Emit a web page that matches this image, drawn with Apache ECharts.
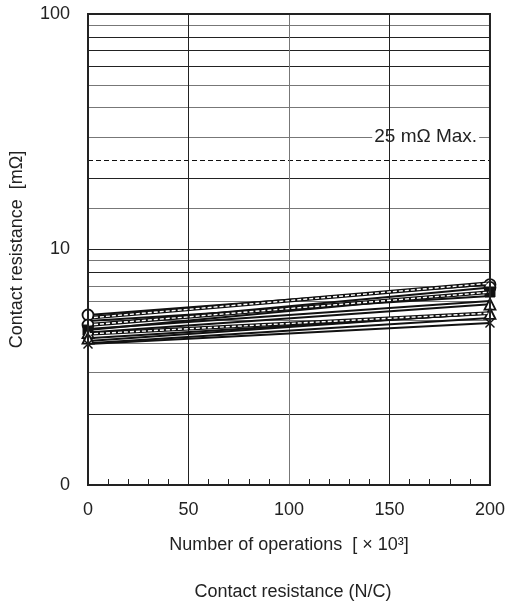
<!DOCTYPE html>
<html>
<head>
<meta charset="utf-8">
<script src="https://cdn.jsdelivr.net/npm/echarts@6/dist/echarts.min.js"></script>
<style>html,body{margin:0;padding:0;background:#fff;}#c{width:508px;height:608px;}</style>
</head>
<body>
<div id="c"></div>
<script>
// ---- data ----
const xValues = [0, 200];
const xTicks = [0, 50, 100, 150, 200];
const xGrid = [50, 100, 150];
const yTickLabels = {1: '0', 10: '10', 100: '100'};
const circleA = [5.27, 7.1];
const circleB = [4.78, 6.9];
const squareA = [4.55, 6.6];
const triangleA = [4.44, 5.86];
const triangleB = [4.2, 5.35];
const crossA = [3.97, 4.87];
const plainA = [4.97, 6.34];
const plainB = [4.6, 6.04];
const plainC = [4.09, 5.37];
const plainD = [4.0, 5.12];
const dashedA = [5.12, 7.19];
const dashedB = [4.78, 6.59];
const dashedC = [4.38, 5.37];
const darkGrid = [2, 8, 10, 20, 60, 70, 80];
const lightGrid = [3, 4, 5, 6, 7, 9, 15, 30, 40, 50, 90];
const limitValue = 24;
const limitLabel = '25 mΩ Max.';
const limitLabelPos = [168, 30];

const FONT = 'Liberation Sans, Arial, Helvetica, sans-serif';
const FS = 18;
const chart = echarts.init(document.getElementById('c'), null, {renderer: 'canvas'});
const pts = arr => xValues.map((x, i) => [x, arr[i]]);
const crossPath = 'path://M0,1L1,0L5,4L9,0L10,1L6,5L10,9L9,10L5,6L1,10L0,9L4,5Z';

function lineSeries(arr, symbol, opts) {
  return Object.assign({
    type: 'line', data: pts(arr), symbol: symbol || 'none', symbolSize: 11,
    showSymbol: !!symbol, clip: false, silent: true, z: 5,
    lineStyle: {color: '#111', width: 2},
    itemStyle: {color: '#fff', borderColor: '#111', borderWidth: 1.8}
  }, opts || {});
}
function dashedSeries(arr) {
  return [
    lineSeries(arr, null, {lineStyle: {color: '#111', width: 3.8}}),
    lineSeries(arr, null, {z: 6, lineStyle: {color: '#fff', width: 1.4, type: [4, 2]}})
  ];
}
function gridLines(vals, color) {
  return vals.map(v => ({yAxis: v, lineStyle: {color: color, width: 1, type: 'solid'}}));
}

const series = [
  {
    type: 'line', data: [], silent: true, z: 1,
    markLine: {
      silent: true, symbol: 'none', label: {show: false}, animation: false, z: 1,
      data: gridLines(darkGrid, '#222').concat(gridLines(lightGrid, '#777')).concat([
        {yAxis: limitValue, lineStyle: {color: '#111', width: 1, type: [5, 3]}}
      ])
    }
  },
  {
    type: 'scatter', data: [limitLabelPos], symbol: 'circle', symbolSize: 1, silent: true, z: 3,
    itemStyle: {color: '#fff', opacity: 1},
    label: {show: true, position: 'inside', formatter: limitLabel, color: '#222', fontSize: 19, fontFamily: FONT,
      backgroundColor: '#fff', padding: [0, 2]}
  },
  {
    type: 'line', data: [], silent: true, z: 4,
    markLine: {
      silent: true, symbol: 'none', label: {show: false}, animation: false, z: 4,
      data: xGrid.map((v, i) => ({xAxis: v, lineStyle: {color: i === 1 ? '#777' : '#222', width: 1, type: 'solid'}}))
    }
  },
  ...dashedSeries(dashedA),
  ...dashedSeries(dashedB),
  ...dashedSeries(dashedC),
  lineSeries(plainA), lineSeries(plainB), lineSeries(plainC), lineSeries(plainD),
  lineSeries(circleA, 'circle'),
  lineSeries(circleB, 'circle'),
  lineSeries(squareA, 'rect', {symbolSize: 10, itemStyle: {color: '#111', borderColor: '#111'}}),
  lineSeries(triangleA, 'triangle'),
  lineSeries(triangleB, 'triangle'),
  lineSeries(crossA, crossPath, {symbolSize: 10, itemStyle: {color: '#111', borderWidth: 0}})
];

chart.setOption({
  animation: false,
  backgroundColor: '#fff',
  title: {
    text: 'Contact resistance (N/C)', left: 288, top: 578, textAlign: 'center',
    textStyle: {fontSize: FS, fontWeight: 'normal', color: '#222', fontFamily: FONT}
  },
  grid: {left: 85.5, right: 16, top: 14, bottom: 123, show: true, borderColor: '#222', borderWidth: 2, z: 10},
  xAxis: {
    type: 'value', min: xTicks[0], max: xTicks[xTicks.length - 1], interval: 50,
    axisLine: {show: true, lineStyle: {color: '#222', width: 2}},
    axisTick: {show: true, inside: true, length: 6, lineStyle: {color: '#222'}},
    minorTick: {show: true, splitNumber: 5, length: 6, lineStyle: {color: '#222'}},
    splitLine: {show: false},
    axisLabel: {fontSize: FS, color: '#222', fontFamily: FONT, margin: 16},
    name: 'Number of operations  [ × 10³]',
    nameLocation: 'middle', nameGap: 51,
    nameTextStyle: {fontSize: FS, color: '#222', fontFamily: FONT}
  },
  yAxis: {
    type: 'log', logBase: 10, min: 1, max: 100,
    axisLine: {show: true, lineStyle: {color: '#222', width: 2}},
    axisTick: {show: false},
    splitLine: {show: false},
    axisLabel: {fontSize: FS, color: '#222', fontFamily: FONT, margin: 18,
      formatter: v => yTickLabels[Math.round(v)] !== undefined ? yTickLabels[Math.round(v)] : ''},
    name: 'Contact resistance  [mΩ]', nameLocation: 'middle', nameGap: 62,
    nameTextStyle: {fontSize: FS, color: '#222', fontFamily: FONT}
  },
  series: series
});
</script>
</body>
</html>
